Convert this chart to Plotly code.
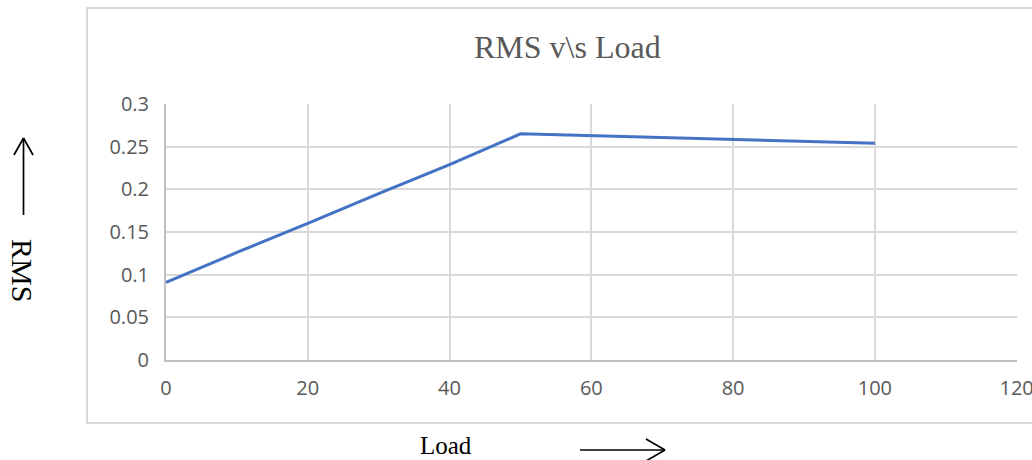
import plotly.graph_objects as go

# Data
load = [0, 10, 20, 30, 40, 45, 50, 100]
rms = [0.091, 0.126, 0.160, 0.195, 0.229, 0.247, 0.265, 0.254]

title_text = "RMS v\\s Load"
y_label = "RMS"
x_label = "Load"

W, H = 1032, 460
ML, MR, MT, MB = 166, 15, 104, 100
PW = W - ML - MR
PH = H - MT - MB


def px(x):
    return (x - ML) / PW


def py(y):
    return (H - MB - y) / PH


fig = go.Figure()
fig.add_trace(go.Scatter(
    x=load, y=rms, mode="lines",
    line=dict(color="#4472C4", width=3),
    showlegend=False, hoverinfo="x+y",
))

tick_font = dict(family="Open Sans", size=20, color="#595959")

fig.update_layout(
    width=W, height=H,
    margin=dict(l=ML, r=MR, t=MT, b=MB, autoexpand=False),
    paper_bgcolor="white", plot_bgcolor="white",
    xaxis=dict(
        range=[0, 120.05], tickvals=[0, 20, 40, 60, 80, 100, 120],
        showgrid=True, gridcolor="#d9d9d9", gridwidth=2,
        showline=True, linecolor="#bfbfbf", linewidth=2,
        zeroline=False, ticks="", tickfont=tick_font,
        ticklabelstandoff=9, ticklabeloverflow="allow", automargin=False,
    ),
    yaxis=dict(
        range=[0, 0.3], dtick=0.05, tick0=0,
        showgrid=True, gridcolor="#d9d9d9", gridwidth=2,
        showline=True, linecolor="#bfbfbf", linewidth=2,
        zeroline=False, ticks="", tickfont=tick_font,
        ticklabelstandoff=11, ticklabeloverflow="allow", automargin=False,
    ),
)

shape_line = dict(color="black", width=1.7)
shapes = [
    # chart border
    dict(type="rect", xref="paper", yref="paper",
         x0=px(87), x1=px(1045), y0=py(423), y1=py(8),
         line=dict(color="#d9d9d9", width=2), fillcolor="rgba(0,0,0,0)", layer="below"),
    # up arrow
    dict(type="line", xref="paper", yref="paper",
         x0=px(23.5), x1=px(23.5), y0=py(215), y1=py(138), line=shape_line),
    dict(type="line", xref="paper", yref="paper",
         x0=px(14), x1=px(23.5), y0=py(155), y1=py(138), line=shape_line),
    dict(type="line", xref="paper", yref="paper",
         x0=px(33), x1=px(23.5), y0=py(155), y1=py(138), line=shape_line),
    # right arrow
    dict(type="line", xref="paper", yref="paper",
         x0=px(580), x1=px(665), y0=py(450), y1=py(450), line=shape_line),
    dict(type="line", xref="paper", yref="paper",
         x0=px(646), x1=px(665), y0=py(439), y1=py(450), line=shape_line),
    dict(type="line", xref="paper", yref="paper",
         x0=px(646), x1=px(665), y0=py(461), y1=py(450), line=shape_line),
]
fig.update_layout(shapes=shapes)

fig.add_annotation(
    text=title_text, xref="paper", yref="paper",
    x=px(567), y=py(47), xanchor="center", yanchor="middle",
    showarrow=False,
    font=dict(family="Liberation Serif", size=32, color="#595959"),
)
fig.add_annotation(
    text=y_label, xref="paper", yref="paper",
    x=px(23), y=py(270), xanchor="center", yanchor="middle",
    textangle=90, showarrow=False,
    font=dict(family="Liberation Serif", size=30, color="black"),
)
fig.add_annotation(
    text=x_label, xref="paper", yref="paper",
    x=px(446), y=py(445), xanchor="center", yanchor="middle",
    showarrow=False,
    font=dict(family="Liberation Serif", size=25, color="black"),
)

fig.write_html("out.html")
